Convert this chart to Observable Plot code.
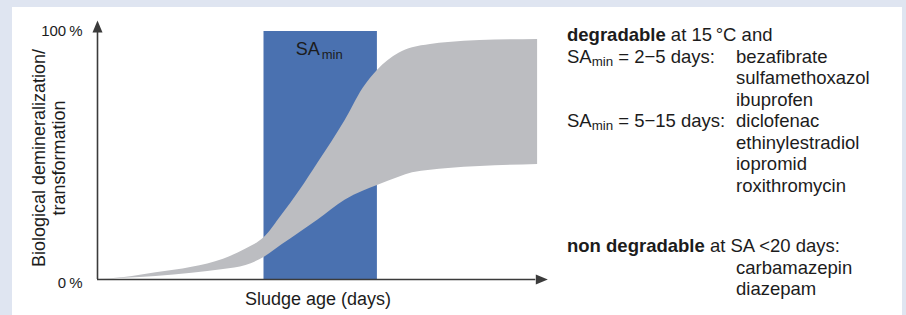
<!DOCTYPE html>
<html>
<head>
<meta charset="utf-8">
<script src="https://cdn.jsdelivr.net/npm/d3@7"></script>
<script src="https://cdn.jsdelivr.net/npm/@observablehq/plot@0.6"></script>
<style>
  html, body { margin: 0; padding: 0; background: #dfe5f1; }
  #wrap { position: relative; width: 906px; height: 315px; overflow: hidden;
          font-family: "Liberation Sans", Arial, Helvetica, sans-serif; color: #1c1c1c; }
  #panel { position: absolute; left: 12px; top: 7px; width: 890px; height: 320px; background: #fff; }
  #chart { position: absolute; left: 0; top: 0; }
  #notes { position: absolute; left: 567px; top: 24px; font-size: 18.5px; line-height: 21.5px; }
  #notes .row { display: grid; grid-template-columns: 169px auto; }
  #notes sub { font-size: 0.72em; vertical-align: -0.22em; line-height: 0; }
  #notes b { font-weight: bold; }
  #notes .gap { margin-top: 39px; }
</style>
</head>
<body>
<div id="wrap">
  <div id="panel"></div>
  <div id="chart"></div>
  <div id="notes"></div>
</div>
<script>
// ---- data ----
const ageX      = [0, 6, 13, 21, 28, 33, 37, 41, 45, 49, 55, 59, 62.2, 67, 70, 74, 78, 85, 97.8];
const lowerPct  = [0, 0.5, 1.2, 2.5, 4.0, 5.6, 8.9, 14, 19, 24, 32, 35.6, 37.9, 41.2, 43, 44.1, 44.8, 45.6, 46.4];
const upperPct  = [0, 0.8, 2.7, 4.9, 8.2, 12.3, 16.8, 26, 36, 47, 64, 77, 84.3, 91.2, 93.4, 94.8, 95.6, 96.4, 96.8];
const saminRange = [37, 62.2];          // SAmin window on the sludge-age axis
const saminTop = 100;
const yTickValues = [0, 100];
const yTickLabels = ["0\u2009%", "100\u2009%"];
const xTitle = "Sludge age (days)";
const yTitle = "Biological demineralization/\ntransformation";
const degradableHead = ["degradable", " at 15\u2009°C and"];
const groups = [
  {label: ["SA", "min", " = 2\u22125 days:"], items: ["bezafibrate", "sulfamethoxazol", "ibuprofen"]},
  {label: ["SA", "min", " = 5\u221215 days:"], items: ["diclofenac", "ethinylestradiol", "iopromid", "roxithromycin"]}
];
const nonDegradableHead = ["non degradable", " at SA <20 days:"];
const nonDegradable = ["carbamazepin", "diazepam"];

// ---- chart ----
const band = ageX.map((x, i) => ({x, lo: lowerPct[i], hi: upperPct[i]}));
const ticks = yTickValues.map((v, i) => ({v, label: yTickLabels[i]}));
const axisColor = "#3b3b3b";
const font = "Liberation Sans, Arial, Helvetica, sans-serif";

const chart = Plot.plot({
  width: 906,
  height: 315,
  marginLeft: 97,
  marginRight: 359,
  marginTop: 31,
  marginBottom: 36,
  style: {background: "transparent", fontFamily: font, color: "#1c1c1c", overflow: "visible"},
  x: {domain: [0, 100], axis: null},
  y: {domain: [0, 100], axis: null},
  marks: [
    Plot.rectY([saminRange], {x1: d => d[0], x2: d => d[1], y1: 0, y2: saminTop, fill: "#4a71b0"}),
    Plot.areaY(band, {x: "x", y1: "lo", y2: "hi", curve: "monotone-x", fill: "#bcbdc1"}),
    // axes with arrow heads
    Plot.ruleX([0], {y1: 0, y2: 99.6, stroke: axisColor, strokeWidth: 1.6}),
    Plot.ruleY([0], {x1: 0, x2: 97.4, stroke: axisColor, strokeWidth: 1.6}),
    Plot.vector([0], {x: 0, y: 99.6, length: 12, r: 5, rotate: 0, anchor: "start", shape: "spike", fill: axisColor, stroke: "none"}),
    Plot.vector([0], {x: 97.4, y: 0, length: 12, r: 5, rotate: 90, anchor: "start", shape: "spike", fill: axisColor, stroke: "none"}),
    // tick labels
    Plot.text(ticks, {filter: d => d.v !== 0, x: 0, y: "v", text: "label", textAnchor: "end", dx: -15, fontSize: 15, fill: "#1c1c1c"}),
    Plot.text(ticks, {filter: d => d.v === 0, x: 0, y: "v", text: "label", textAnchor: "end", dx: -15, dy: 4, fontSize: 15, fill: "#1c1c1c"}),
    // axis titles
    Plot.text([xTitle], {x: 49, y: 0, text: d => d, dy: 20, fontSize: 18, fill: "#1c1c1c"}),
    Plot.text([yTitle], {x: 0, y: 49, text: d => d, dx: -49, rotate: -90, lineHeight: 1.12, fontSize: 18, fill: "#1c1c1c"}),
    // SAmin label in the window
    Plot.text([saminRange], {x: d => (d[0] + d[1]) / 2, y: saminTop, text: () => "SA", textAnchor: "end", dx: -1, dy: 18, fontSize: 18, fill: "#1c1c1c"}),
    Plot.text([saminRange], {x: d => (d[0] + d[1]) / 2, y: saminTop, text: () => "min", textAnchor: "start", dx: 1, dy: 23, fontSize: 13, fill: "#1c1c1c"})
  ]
});
document.getElementById("chart").appendChild(chart);

// ---- annotation block ----
const notes = document.getElementById("notes");
const esc = s => s.replace(/&/g, "&amp;").replace(/</g, "&lt;");
let html = `<div><b>${esc(degradableHead[0])}</b>${esc(degradableHead[1])}</div>`;
for (const g of groups) {
  g.items.forEach((item, i) => {
    const lab = i === 0 ? `${esc(g.label[0])}<sub>${esc(g.label[1])}</sub>${esc(g.label[2])}` : "";
    html += `<div class="row"><span>${lab}</span><span>${esc(item)}</span></div>`;
  });
}
html += `<div class="gap"><b>${esc(nonDegradableHead[0])}</b>${esc(nonDegradableHead[1])}</div>`;
for (const item of nonDegradable) html += `<div class="row"><span></span><span>${esc(item)}</span></div>`;
notes.innerHTML = html;
</script>
</body>
</html>
